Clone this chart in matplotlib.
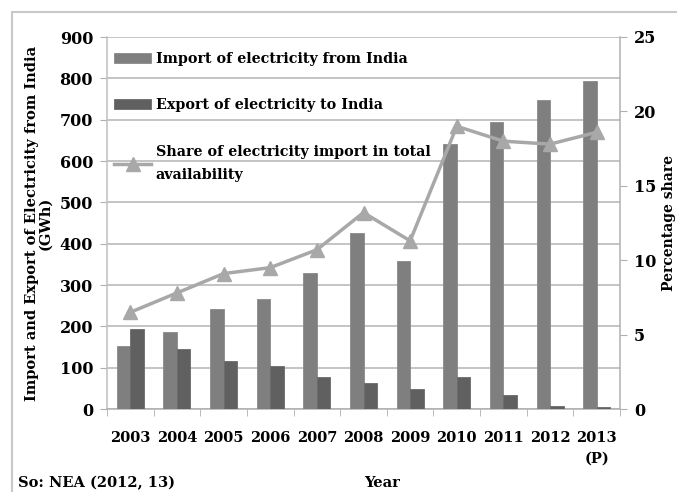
import matplotlib
matplotlib.use("Agg")
import matplotlib.pyplot as plt
import numpy as np
from matplotlib.patches import Rectangle

years = ["2003", "2004", "2005", "2006", "2007", "2008", "2009", "2010", "2011", "2012", "2013\n(P)"]
imports = [153, 186, 242, 266, 329, 425, 357, 642, 695, 748, 793]
exports = [193, 146, 115, 103, 78, 63, 49, 78, 33, 8, 5]
share = [6.5, 7.8, 9.1, 9.5, 10.7, 13.2, 11.3, 19.0, 18.0, 17.8, 18.6]

plt.rcParams['font.family'] = ['DejaVu Serif']
plt.rcParams['font.weight'] = 'bold'

W, H = 677, 492
fig = plt.figure(figsize=(W/100, H/100), dpi=100)
ax = fig.add_axes([107/W, 1-409/H, (620-107)/W, (409-37)/H])

x = np.arange(len(years))
bw = 0.29
ax.bar(x - bw/2, imports, bw, color='#7f7f7f', edgecolor='#8a8a8a', linewidth=0.6,
       label='Import of electricity from India', zorder=3)
ax.bar(x + bw/2, exports, bw, color='#606060', edgecolor='#6a6a6a', linewidth=0.6,
       label='Export of electricity to India', zorder=3)
ax.set_ylim(0, 900)
ax.set_xlim(-0.5, len(years) - 0.5)
ax.set_yticks(range(0, 901, 100))
ax.yaxis.grid(True, color='#b4b4b4', linewidth=1.1, zorder=0)
ax.set_axisbelow(True)
ax.set_xticks(x)
ax.set_xticklabels(years, fontsize=10.5, fontweight='bold', linespacing=1.6)
ax.set_xticks(np.arange(-0.5, len(years)), minor=True)
ax.tick_params(axis='x', which='major', length=0, pad=16)
ax.tick_params(axis='x', which='minor', length=5, color='#b0b0b0', direction='out')
ax.tick_params(axis='y', length=5, color='#b0b0b0', labelsize=11.5, pad=5)
for s in ['top', 'right']:
    ax.spines[s].set_visible(False)
ax.spines['left'].set_color('#c0c0c0')
ax.spines['bottom'].set_color('#b0b0b0')
ax.spines['left'].set_linewidth(1.1)
ax.spines['bottom'].set_linewidth(1.1)
ax.set_ylabel('Import and Export of Electricity from India\n(GWh)', fontsize=10.5,
              fontweight='bold', labelpad=5, linespacing=0.95)

ax2 = ax.twinx()
ax2.plot(x, share, color='#a8a8a8', linewidth=2.5, marker='^', markersize=9.5,
         markerfacecolor='#a8a8a8', markeredgecolor='#a8a8a8',
         label='Share of electricity import in total\navailability', zorder=4)
ax2.set_ylim(0, 25)
ax2.set_yticks(range(0, 26, 5))
ax2.tick_params(axis='y', length=5, color='#b0b0b0', labelsize=11.5, pad=5)
for s in ['top', 'left', 'bottom']:
    ax2.spines[s].set_visible(False)
ax2.spines['right'].set_color('#b0b0b0')
ax2.spines['right'].set_linewidth(1.1)

fig.text(662/W, 1-223/H, 'Percentage share', rotation=90, fontsize=10,
         fontweight='bold', ha='left', va='center')

h1, l1 = ax.get_legend_handles_labels()
h2, l2 = ax2.get_legend_handles_labels()
leg = ax.legend(h1 + h2, l1 + l2, loc='upper left', bbox_to_anchor=(0.0, 0.98),
                frameon=False, fontsize=10.3, labelspacing=2.3, handlelength=2.6,
                handletextpad=0.3, borderaxespad=0.1)
for t in leg.get_texts():
    t.set_fontweight('bold')
    t.set_linespacing(1.75)

fig.text(382/W, 1-483/H, 'Year', fontsize=10.5, fontweight='bold', ha='center', va='center')
fig.text(18/W, 1-483/H, 'So: NEA (2012, 13)', fontsize=10.5, fontweight='bold',
         ha='left', va='center')

fig.patches.append(Rectangle((12/W, -0.1), 1.2, 1-12/H + 0.1, transform=fig.transFigure,
                             fill=False, edgecolor='#c8c8c8', linewidth=1.5))

fig.savefig('out.png', dpi=100)
